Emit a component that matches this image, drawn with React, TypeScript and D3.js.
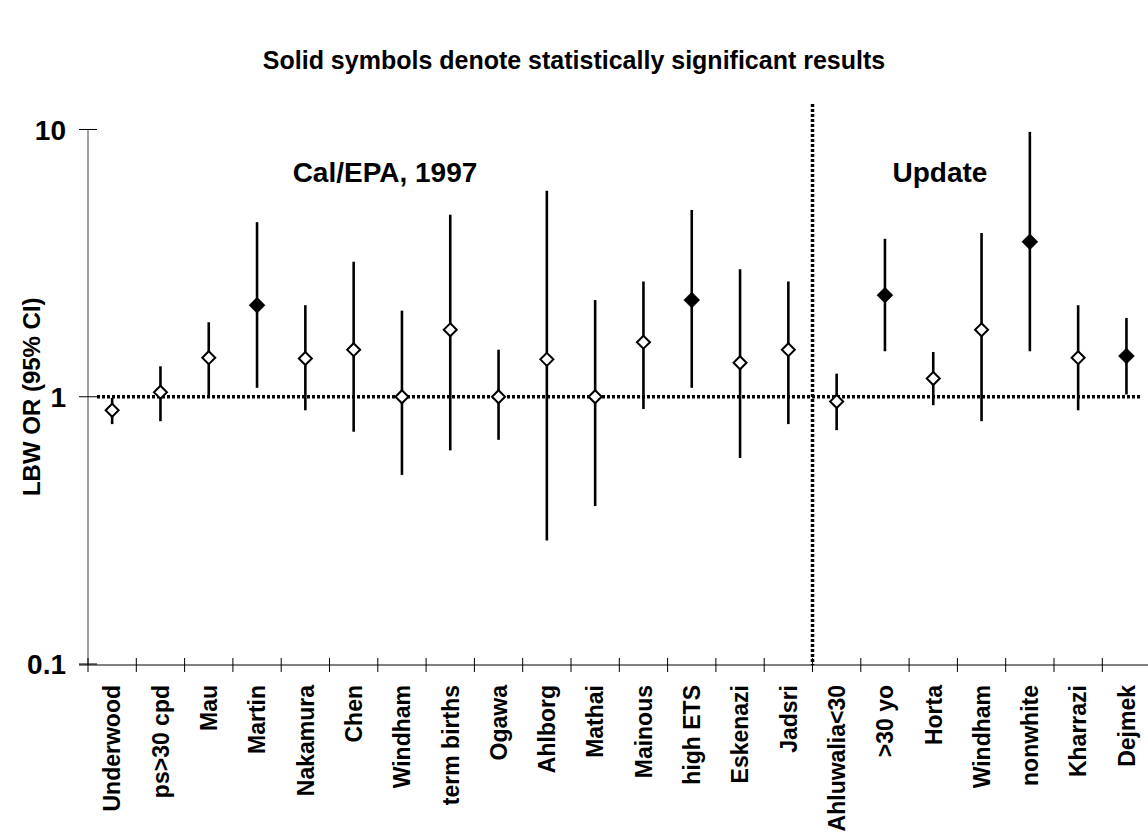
import React from "react";
import * as d3 from "d3";

const categories = ["Underwood","ps>30 cpd","Mau","Martin","Nakamura","Chen","Windham","term births","Ogawa","Ahlborg","Mathai","Mainous","high ETS","Eskenazi","Jadsri","Ahluwalia<30",">30 yo","Horta","Windham ","nonwhite","Kharrazi","Dejmek"];
const oddsRatio = [0.89,1.04,1.4,2.2,1.39,1.5,1.0,1.78,1.0,1.38,1.0,1.6,2.3,1.34,1.5,0.96,2.4,1.17,1.78,3.8,1.4,1.42];
const lowerCI = [0.79,0.81,1.0,1.08,0.89,0.74,0.51,0.63,0.69,0.29,0.39,0.9,1.08,0.59,0.79,0.75,1.48,0.93,0.81,1.48,0.89,1.02];
const upperCI = [0.99,1.3,1.9,4.5,2.2,3.2,2.1,4.8,1.5,5.9,2.3,2.7,5.0,3.0,2.7,1.22,3.9,1.47,4.1,9.8,2.2,1.97];
const significant = [false,false,false,true,false,false,false,false,false,false,false,false,true,false,false,false,true,false,false,true,false,true];
const yTicks = [0.1, 1, 10];
const yTickLabels = ["0.1", "1", "10"];
const updateStartIndex = 15;

const FONT = "'Liberation Sans', Arial, Helvetica, sans-serif";

export default function App() {
  const W = 1148, H = 834;
  const x = d3.scaleBand<string>().domain(categories).range([88, 88 + 22 * 48.3]).padding(0);
  const y = d3.scaleLog().domain([0.1, 10]).range([664, 129.5]);
  const bw = x.bandwidth();
  const cx = (i: number) => (x(categories[i]) as number) + bw / 2;
  const axisY = y(0.1) + 1;
  const diamond = (r: number) => `M0,${-r}L${r},0L0,${r}L${-r},0Z`;
  const boundaries = d3.range(categories.length + 1).map((k) => 88 + k * bw);
  const divX = boundaries[updateStartIndex];

  return (
    <svg width={W} height={H} style={{ display: "block", position: "absolute", left: 0, top: 0, background: "#fff" }}>
      <rect x={0} y={0} width={W} height={H} fill="#fff" />
      <text x={574} y={69} textAnchor="middle" fontFamily={FONT} fontWeight="bold" fontSize={25}>
        Solid symbols denote statistically significant results
      </text>
      {/* y axis */}
      <line x1={88} x2={88} y1={y(10)} y2={axisY} stroke="#808080" strokeWidth={1.5} />
      {yTicks.map((t, i) => (
        <g key={t}>
          <line x1={79} x2={97} y1={y(t)} y2={y(t)} stroke="#000" strokeWidth={1} />
          <text x={66} y={y(t)} dy="0.36em" textAnchor="end" fontFamily={FONT} fontWeight="bold" fontSize={28}>
            {yTickLabels[i]}
          </text>
        </g>
      ))}
      <text transform={`translate(31,${y(1)}) rotate(-90)`} dy="0.36em" textAnchor="middle" fontFamily={FONT} fontWeight="bold" fontSize={24}>
        LBW OR (95% CI)
      </text>
      {/* x axis */}
      <line x1={79} x2={W} y1={axisY} y2={axisY} stroke="#000" strokeWidth={1} />
      {boundaries.map((b, i) => (
        <line key={i} x1={b} x2={b} y1={axisY - 7} y2={axisY + 7} stroke="#000" strokeWidth={1} />
      ))}
      {categories.map((c, i) => (
        <text key={c} transform={`translate(${cx(i)},${685}) rotate(-90)`} dy="0.36em" textAnchor="end" fontFamily={FONT} fontWeight="bold" fontSize={23}>
          {c.trim()}
        </text>
      ))}
      {/* reference lines */}
      <line x1={97} x2={1142} y1={y(1)} y2={y(1)} stroke="#000" strokeWidth={3.5} strokeDasharray="3,2" />
      <line x1={divX} x2={divX} y1={104} y2={axisY} stroke="#000" strokeWidth={3.5} strokeDasharray="3,2" />
      {/* section labels */}
      <text x={385} y={182} textAnchor="middle" fontFamily={FONT} fontWeight="bold" fontSize={28}>Cal/EPA, 1997</text>
      <text x={940} y={182} textAnchor="middle" fontFamily={FONT} fontWeight="bold" fontSize={28}>Update</text>
      {/* CI whiskers */}
      {categories.map((c, i) => (
        <line key={"w" + i} x1={cx(i)} x2={cx(i)} y1={y(lowerCI[i])} y2={y(upperCI[i])} stroke="#000" strokeWidth={2.6} />
      ))}
      {/* markers */}
      {categories.map((c, i) => (
        <path key={"m" + i} transform={`translate(${cx(i)},${y(oddsRatio[i])})`}
          d={significant[i] ? diamond(8) : diamond(6.5)}
          fill={significant[i] ? "#000" : "#fff"} stroke="#000" strokeWidth={significant[i] ? 0.5 : 2} />
      ))}
    </svg>
  );
}
